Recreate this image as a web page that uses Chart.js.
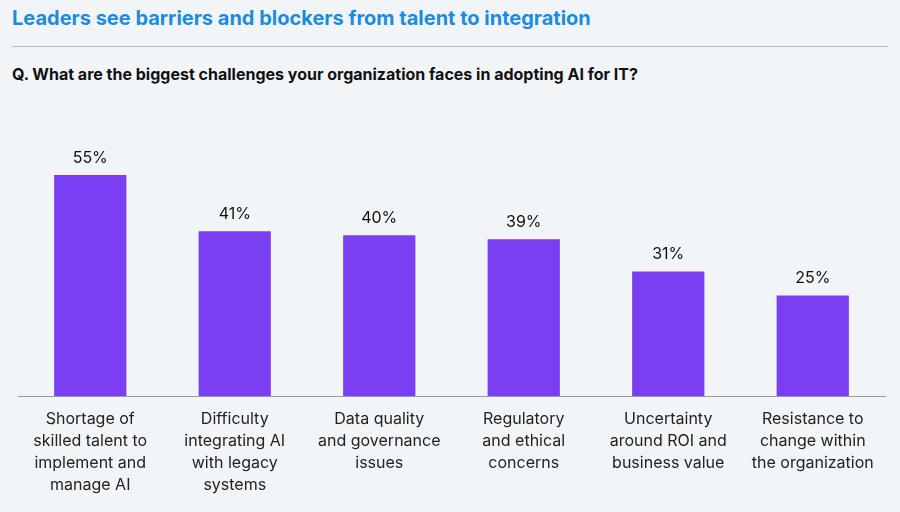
<!DOCTYPE html>
<html><head><meta charset="utf-8">
<script src="https://cdn.jsdelivr.net/npm/chart.js@4"></script>
<style>
html,body{margin:0;padding:0;background:#f2f5f8;width:900px;height:512px;overflow:hidden;font-family:Inter,"Liberation Sans",Arial,sans-serif}
#t{position:absolute;left:12px;top:6px;font-size:20px;font-weight:700;color:#1a8ce0}
#hr{position:absolute;left:12px;top:46px;width:876px;height:1px;background:#b8bcc2}
#s{position:absolute;left:12px;top:64px;font-size:16px;font-weight:700;color:#111}
#w{position:absolute;left:0;top:0;width:900px;height:512px}
</style></head><body>
<div id="t">Leaders see barriers and blockers from talent to integration</div>
<div id="hr"></div>
<div id="s">Q. What are the biggest challenges your organization faces in adopting AI for IT?</div>
<div id="w"><canvas id="c"></canvas></div>
<script>
const categories=[["Shortage of","skilled talent to","implement and","manage AI"],["Difficulty","integrating AI","with legacy","systems"],["Data quality","and governance","issues"],["Regulatory","and ethical","concerns"],["Uncertainty","around ROI and","business value"],["Resistance to","change within","the organization"]];
const values=[55,41,40,39,31,25];
const labelPlugin={id:'lbl',afterDatasetsDraw(ch){const ctx=ch.ctx;const m=ch.getDatasetMeta(0);ctx.save();ctx.font='16px Inter, "Liberation Sans", Arial';ctx.fillStyle='#111';ctx.textAlign='center';ctx.textBaseline='bottom';m.data.forEach((b,i)=>ctx.fillText(values[i]+'%',b.x,b.y-9));ctx.restore();}};
new Chart(document.getElementById('c'),{type:'bar',data:{labels:categories,datasets:[{data:values,backgroundColor:'#7a3ff2',barPercentage:0.5,categoryPercentage:1}]},
options:{responsive:true,maintainAspectRatio:false,animation:false,layout:{padding:{left:18,right:15,top:155,bottom:0}},
plugins:{legend:{display:false},tooltip:{enabled:false}},
scales:{y:{display:false,min:0,max:60},x:{afterFit(s){s.height=116},grid:{display:false,drawTicks:false},border:{color:'#999',width:1},
ticks:{color:'#222',font:{size:16,family:'Inter, "Liberation Sans", Arial',lineHeight:1.38},padding:12,maxRotation:0,autoSkip:false}}}},
plugins:[labelPlugin]});
</script></body></html>
